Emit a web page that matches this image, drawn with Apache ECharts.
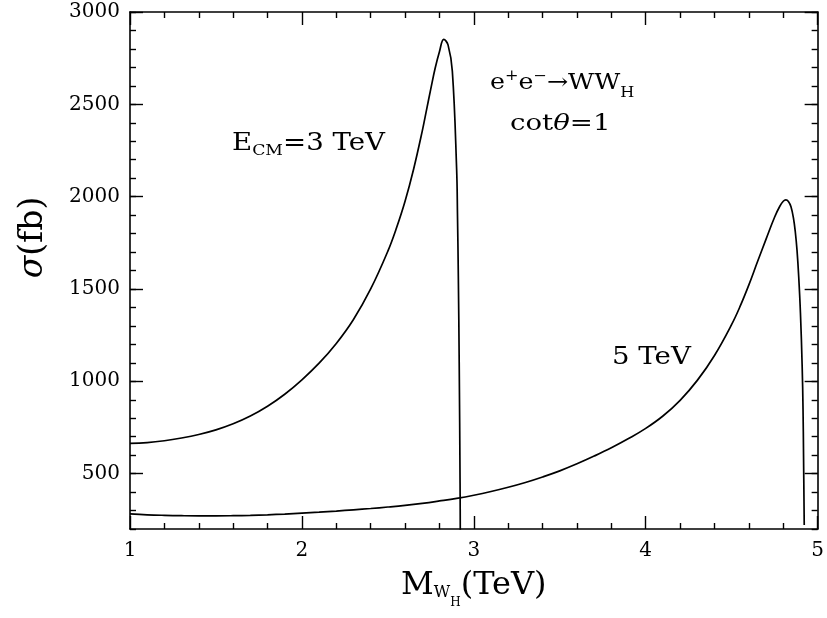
<!DOCTYPE html>
<html>
<head>
<meta charset="utf-8">
<script src="https://cdn.jsdelivr.net/npm/echarts@6/dist/echarts.min.js"></script>
<style>
  html, body { margin: 0; padding: 0; background: #fff; }
  #chart { width: 827px; height: 618px; }
</style>
</head>
<body>
<div id="chart"></div>
<script>
// Cross section for e+e- -> W W_H as a function of the heavy W mass (cot theta = 1)

// E_CM = 3 TeV
const mass3TeV  = [1.0, 1.1, 1.2, 1.3, 1.4, 1.5, 1.6, 1.7, 1.8, 1.9, 2.0, 2.1, 2.2, 2.3, 2.4, 2.5,
                   2.55, 2.6, 2.65, 2.7, 2.725, 2.75, 2.775, 2.8, 2.825, 2.85, 2.875,
                   2.9, 2.905, 2.91, 2.915, 2.92, 2.922];
const sigma3TeV = [664, 668, 678, 693, 712, 737, 770, 812, 865, 930, 1008, 1098, 1205, 1335, 1500, 1705,
                   1830, 1975, 2150, 2355, 2470, 2585, 2695, 2785, 2852, 2822, 2680,
                   2150, 1900, 1560, 1100, 450, 0];

// E_CM = 5 TeV
const mass5TeV  = [1.0, 1.1, 1.2, 1.3, 1.4, 1.5, 1.6, 1.7, 1.8, 1.9, 2.0, 2.1, 2.2, 2.3, 2.4, 2.5,
                   2.6, 2.7, 2.8, 2.9, 3.0, 3.1, 3.2, 3.3, 3.4, 3.5, 3.6, 3.7, 3.8, 3.9, 4.0,
                   4.1, 4.2, 4.3, 4.4, 4.5, 4.55, 4.6, 4.65, 4.7, 4.75, 4.78, 4.8, 4.815,
                   4.83, 4.845, 4.86, 4.87, 4.88, 4.89, 4.9, 4.91, 4.915, 4.918, 4.922];
const sigma5TeV = [282, 277, 274, 272, 271, 271, 272, 274, 277, 281, 286, 291, 297, 304, 311, 319,
                   328, 339, 352, 366, 383, 403, 426, 452, 482, 515, 553, 595, 640, 690, 745,
                   812, 897, 1005, 1140, 1308, 1408, 1522, 1647, 1770, 1890, 1948, 1975, 1982,
                   1974, 1945, 1880, 1810, 1710, 1565, 1370, 1080, 850, 600, 222];

// Axis ranges and labelled ticks
const xMin = 1, xMax = 5, xStep = 1;
const yMin = 200, yMax = 3000, yMinorStep = 100;
const yMajorTicks = [500, 1000, 1500, 2000, 2500, 3000];

const FONT = 'DejaVu Serif';
const INK = '#000';

const toPairs = (xs, ys) => xs.map((x, i) => [x, ys[i]]);

const chart = echarts.init(document.getElementById('chart'), null, { renderer: 'canvas' });

const tickStyle = { color: INK, width: 1.4 };
const axisLineStyle = { color: INK, width: 1.6 };
const plainNumber = v => String(v);

function xAxisDef(pos, withLabels) {
  return {
    type: 'value', position: pos, min: xMin, max: xMax, interval: xStep,
    axisLine: { show: true, onZero: false, lineStyle: axisLineStyle },
    axisTick: { show: true, inside: true, length: 13, lineStyle: tickStyle },
    minorTick: { show: true, splitNumber: 5, length: 6, lineStyle: tickStyle },
    axisLabel: { show: withLabels, color: INK, fontFamily: FONT, fontSize: 20, margin: 12, formatter: plainNumber },
    splitLine: { show: false }, minorSplitLine: { show: false }
  };
}

function yMajorDef(pos, withLabels) {
  return {
    type: 'value', position: pos, min: yMin, max: yMax,
    axisLine: { show: true, onZero: false, lineStyle: axisLineStyle },
    axisTick: { show: true, inside: true, length: 13, lineStyle: tickStyle, customValues: yMajorTicks },
    axisLabel: { show: withLabels, color: INK, fontFamily: FONT, fontSize: 20, margin: 10,
                 customValues: yMajorTicks, formatter: plainNumber },
    splitLine: { show: false }
  };
}

function yMinorDef(pos) {
  return {
    type: 'value', position: pos, min: yMin, max: yMax, interval: yMinorStep,
    axisLine: { show: false },
    axisTick: { show: true, inside: true, length: 6, lineStyle: tickStyle },
    axisLabel: { show: false },
    splitLine: { show: false }
  };
}

// Subscripts are pushed down with top padding on 'top'-aligned rich tokens
const xBottom = xAxisDef('bottom', true);
xBottom.name = '{m|M}{s|W}{ss|H}{m|(TeV)}';
xBottom.nameLocation = 'middle';
xBottom.nameGap = 41;
xBottom.nameTextStyle = {
  color: INK, fontFamily: FONT, fontSize: 32,
  rich: {
    m:  { fontFamily: FONT, fontSize: 32, color: INK, verticalAlign: 'top' },
    s:  { fontFamily: FONT, fontSize: 16, color: INK, verticalAlign: 'top', padding: [15, 0, 0, 0] },
    ss: { fontFamily: FONT, fontSize: 12, color: INK, verticalAlign: 'top', padding: [27, 0, 0, 0] }
  }
};

const yLeft = yMajorDef('left', true);
yLeft.name = '{i|σ}(fb)';
yLeft.nameLocation = 'middle';
yLeft.nameRotate = 90;
yLeft.nameGap = 80;
yLeft.nameTextStyle = {
  color: INK, fontFamily: FONT, fontSize: 33, padding: [0, 0, 0, 66],
  rich: { i: { fontFamily: FONT, fontStyle: 'italic', fontSize: 33, color: INK } }
};

function label(x, y, text, rich, fontSize, sx) {
  return {
    type: 'text', x: x, y: y, scaleX: sx, silent: true,
    style: {
      text: text, rich: rich, fill: INK, fontFamily: FONT, fontSize: fontSize,
      align: 'left', verticalAlign: 'top'
    }
  };
}

const option = {
  animation: false,
  backgroundColor: '#fff',
  grid: { left: 130, right: 8, top: 12, bottom: 89, containLabel: false },
  xAxis: [xBottom, xAxisDef('top', false)],
  yAxis: [yLeft, yMinorDef('left'), yMajorDef('right', false), yMinorDef('right')],
  series: [
    {
      name: '3 TeV', type: 'line', xAxisIndex: 0, yAxisIndex: 0,
      data: toPairs(mass3TeV, sigma3TeV),
      showSymbol: false, smooth: 0.4, clip: true, silent: true,
      lineStyle: { color: INK, width: 1.7 }
    },
    {
      name: '5 TeV', type: 'line', xAxisIndex: 0, yAxisIndex: 0,
      data: toPairs(mass5TeV, sigma5TeV),
      showSymbol: false, smooth: 0.4, clip: true, silent: true,
      lineStyle: { color: INK, width: 1.7 }
    }
  ],
  graphic: [
    label(232, 132, '{m|E}{s|CM}{m|=3 TeV}', {
      m: { fill: INK, fontFamily: FONT, fontSize: 24, verticalAlign: 'top' },
      s: { fill: INK, fontFamily: FONT, fontSize: 15, verticalAlign: 'top', padding: [12, 0, 0, 0] }
    }, 24, 1.15),
    label(490, 69, '{m|e}{p|+}{m|e}{p|−}{m|→WW}{s|H}', {
      m: { fill: INK, fontFamily: FONT, fontSize: 22, verticalAlign: 'top', padding: [3, 0, 0, 0] },
      p: { fill: INK, fontFamily: FONT, fontSize: 14, verticalAlign: 'top' },
      s: { fill: INK, fontFamily: FONT, fontSize: 14, verticalAlign: 'top', padding: [17, 0, 0, 0] }
    }, 22, 1.15),
    label(510, 113, '{m|cot}{i|θ}{m|=1}', {
      m: { fill: INK, fontFamily: FONT, fontSize: 23, verticalAlign: 'top' },
      i: { fill: INK, fontFamily: FONT, fontStyle: 'italic', fontSize: 23, verticalAlign: 'top' }
    }, 23, 1.2),
    label(612, 346, '{m|5 TeV}', {
      m: { fill: INK, fontFamily: FONT, fontSize: 24, verticalAlign: 'top' }
    }, 24, 1.15)
  ]
};

chart.setOption(option);
</script>
</body>
</html>
